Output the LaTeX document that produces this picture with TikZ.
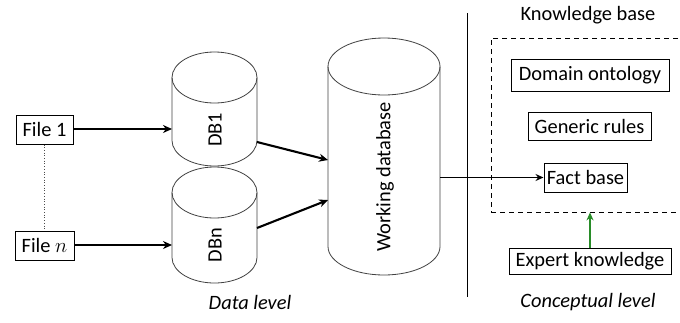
\documentclass[tikz,border=0pt]{standalone}
\usepackage{fontspec}
\setmainfont{Carlito}
\usetikzlibrary{arrows.meta}
\definecolor{arrgreen}{RGB}{40,140,40}
\newcommand{\cyldraw}[5]{%
  \pgfmathsetmacro\cylcx{(#1+#2)/2}%
  \pgfmathsetmacro\cylrx{(#2-#1)/2}%
  \draw[cyl] (\cylcx,#3+#5) ellipse [x radius=\cylrx pt, y radius=#5 pt];
  \draw[cyl] (#1,#3+#5) -- (#1,#4-#5) arc[start angle=180,end angle=360,x radius=\cylrx pt,y radius=#5 pt] -- (#2,#3+#5);
}
\begin{document}
\begin{tikzpicture}[x=1pt,y=-1pt,
  every node/.style={font=\fontsize{20.4}{24}\selectfont},
  cyl/.style={draw=black!75, line width=0.8pt},
  box/.style={draw, line width=1pt, inner sep=0pt},
  bigarrow/.style={line width=2.1pt, -{Stealth[length=9pt,width=8pt]}},
  midarrow/.style={line width=1.5pt, -{Stealth[length=8pt,width=7pt]}},
  greenarrow/.style={draw=arrgreen, line width=1.7pt, -{Stealth[length=8pt,width=7pt]}},
  lbl/.style={inner sep=0pt}]
\useasboundingbox (0,0) rectangle (680,322);
\clip (0,0) rectangle (680,322);
% cylinders
\cyldraw{172}{257}{52}{166}{25.5}
\cyldraw{172}{257}{167}{283}{25.5}
\cyldraw{328}{440}{38}{275}{28.5}
\node[inner sep=0pt, minimum width=85pt, minimum height=114pt] (db1) at (214.5,109) {};
\node[inner sep=0pt, minimum width=85pt, minimum height=116pt] (dbn) at (214.5,225) {};
\node[inner sep=0pt, minimum width=112pt, minimum height=237pt] (wd) at (384,156.5) {};
\node[lbl, rotate=90] (db1t) at (215,130) {DB1};
\node[lbl, rotate=90] (dbnt) at (215,245) {DBn};
\node[lbl, rotate=90] (wdt) at (385,177) {Working database};
% file boxes
\node[box, minimum width=57pt, minimum height=29pt] (f1) at (44.5,129.5) {File 1};
\node[box, minimum width=59pt, minimum height=29pt] (fn) at (44.5,245.5) {File $n$};
\draw[dotted, line width=0.7pt, black!70] (f1.south) -- (fn.north);
\coordinate (db1in) at (172,129);
\coordinate (dbnin) at (172,245);
\draw[bigarrow] (f1.east |- db1in) -- (db1in);
\draw[bigarrow] (fn.east |- dbnin) -- (dbnin);
\coordinate (db1out) at (257,142);
\coordinate (dbnout) at (257,228);
\coordinate (wdin1) at (328,160);
\coordinate (wdin2) at (328,200);
\draw[bigarrow] (db1out) -- (wdin1);
\draw[bigarrow] (dbnout) -- (wdin2);
% separator
\coordinate (septop) at (467,13);
\coordinate (sepbot) at (467,297);
\draw[line width=1pt] (septop) -- (sepbot);
% knowledge base
\node[lbl] (kbt) at (588,15) {Knowledge base};
\node[draw, line width=0.8pt, dash pattern=on 5pt off 4pt, inner sep=0pt, minimum width=209pt, minimum height=174pt] (kb) at (595.5,125) {};
\node[box, minimum width=158pt, minimum height=32pt] (dom) at (590,75) {Domain ontology};
\node[box, minimum width=123pt, minimum height=28pt] (gen) at (589.5,126) {Generic rules};
\node[box, minimum width=83pt, minimum height=29pt] (fact) at (585.5,177.5) {Fact base};
\node[box, minimum width=162pt, minimum height=26pt] (exp) at (590,261) {Expert knowledge};
\draw[midarrow] (wd.east |- fact.west) -- (fact.west);
\draw[greenarrow] (exp.north) -- (exp.north |- kb.south);
% level labels
\node[lbl, font=\fontsize{20.4}{24}\selectfont\itshape] (dl) at (250,302) {Data level};
\node[lbl, font=\fontsize{20.4}{24}\selectfont\itshape] (cl) at (588,302) {Conceptual level};
\end{tikzpicture}
\end{document}
